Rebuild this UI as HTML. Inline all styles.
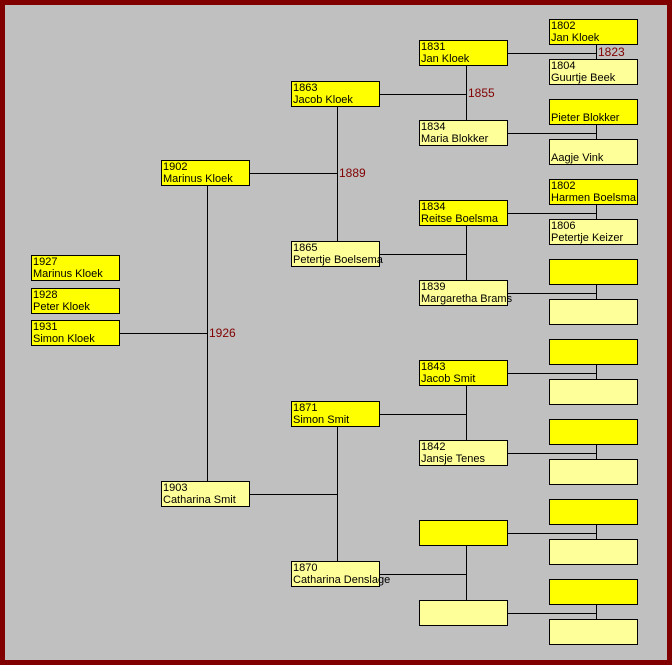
<!DOCTYPE html>
<html><head><meta charset="utf-8"><style>
body{margin:0;width:672px;height:665px;overflow:hidden;background:#800000;position:relative}
#bg{position:absolute;left:5px;top:5px;width:662px;height:655px;background:#c0c0c0}
.b{position:absolute;width:87px;height:24px;border:1px solid #000;background:#ffff00;font:11px/12px "Liberation Sans",sans-serif;color:#000;padding:0;box-sizing:content-box;white-space:nowrap}
.b span{position:absolute;left:1px;top:0px}
.m{background:#ffff99}
.l{position:absolute;font:12px "Liberation Sans",sans-serif;color:#800000}
svg{position:absolute;left:0;top:0}
</style></head><body>
<div id="bg"></div>
<svg width="672" height="665" stroke="#000" stroke-width="1" shape-rendering="crispEdges">
<line x1="119" y1="333.5" x2="207.5" y2="333.5"/><line x1="207.5" y1="186" x2="207.5" y2="481"/>
<line x1="249" y1="173.5" x2="337.5" y2="173.5"/><line x1="337.5" y1="107" x2="337.5" y2="241"/>
<line x1="249" y1="494.5" x2="337.5" y2="494.5"/><line x1="337.5" y1="427" x2="337.5" y2="561"/>
<g id="c3"></g>
</svg>
<div id="c"></div>
<script>
var h='',s='';
function box(x,y,t1,t2,m){h+='<div class="b'+(m?' m':'')+'" style="left:'+x+'px;top:'+y+'px"><span>'+t1+'<br>'+t2+'</span></div>';}
function ln(x1,y1,x2,y2){s+='<line x1="'+x1+'" y1="'+y1+'" x2="'+x2+'" y2="'+y2+'"/>';}
box(31,255,'1927','Marinus Kloek');box(31,288,'1928','Peter Kloek');box(31,320,'1931','Simon Kloek');
box(161,160,'1902','Marinus Kloek');box(161,481,'1903','Catharina Smit',1);
box(291,81,'1863','Jacob Kloek');box(291,241,'1865','Petertje Boelsema',1);
box(291,401,'1871','Simon Smit');box(291,561,'1870','Catharina Denslage',1);
var c3=[['1831','Jan Kloek'],['1834','Maria Blokker'],['1834','Reitse Boelsma'],['1839','Margaretha Brams'],['1843','Jacob Smit'],['1842','Jansje Tenes'],['',''],['','']];
for(var i=0;i<8;i++){var y=40+80*i;box(419,y,c3[i][0],c3[i][1],i%2);}
var c4=[['1802','Jan Kloek'],['1804','Guurtje Beek'],['','Pieter Blokker'],['','Aagje Vink'],['1802','Harmen Boelsma'],['1806','Petertje Keizer']];
for(var i=0;i<16;i++){var y=19+40*i;var t=c4[i]||['',''];box(549,y,t[0],t[1],i%2);}
for(var i=0;i<8;i++){var y=40+80*i;ln(508,y+13.5,596.5,y+13.5);}
for(var i=0;i<8;i++){var y=19+80*i;ln(596.5,y+26,596.5,y+40);}
for(var i=0;i<4;i++){var y=40+160*i;ln(380,y+54.5,466.5,y+54.5);ln(466.5,y+26,466.5,y+80);}
document.getElementById('c').innerHTML=h;
document.getElementById('c3').innerHTML=s;
</script>
<div class="l" style="left:598px;top:45px">1823</div>
<div class="l" style="left:468px;top:86px">1855</div>
<div class="l" style="left:339px;top:166px">1889</div>
<div class="l" style="left:209px;top:326px">1926</div>
</body></html>
